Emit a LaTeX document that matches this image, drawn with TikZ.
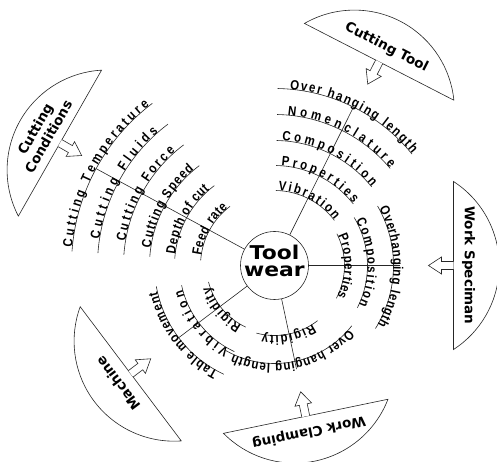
\documentclass[tikz,border=0pt]{standalone}
\usepackage{fontspec}
\setmainfont{DejaVu Sans}
\newfontfamily\lbfam{Liberation Sans}[FakeStretch=0.85]
\usetikzlibrary{decorations.text}
\newcommand\lblfont{\lbfam\bfseries\fontsize{13.5}{14}\selectfont}
\newcommand\boxfont{\bfseries\fontsize{13.5}{15.5}\selectfont}
\newcommand\arclab[4]{\path[decorate,decoration={text along path,text={|\lblfont|#4},text align={fit to path}}] (#2:#1) arc[start angle=#2,end angle=#3,radius=#1];}
\newcommand\ularc[3]{\draw[rib] (#2:#1) arc[start angle=#2,end angle=#3,radius=#1];}
\newcommand\segshape[5]{%
  \begin{scope}[rotate=#1]
    \draw[shapeline] (#2,84) arc[start angle=57.14,end angle=-57.14,radius=100] -- cycle;
    \draw[shapeline] (#2,4) -- ({#2-12},4) -- ({#2-12},8.5) -- ({#2-25},0) -- ({#2-12},-8.5) -- ({#2-12},-4) -- (#2,-4);
  \end{scope}
  \pgfmathsetmacro\labr{#2+#5}
  \node[boxlabel, rotate=#1-90] (#3) at (#1:\labr) {#4};}
\begin{document}
\begin{tikzpicture}[x=1pt,y=1pt,
  rib/.style={line width=0.6pt, black!85},
  spoke/.style={line width=0.6pt, black!85},
  shapeline/.style={line width=0.6pt, black!85, fill=white},
  boxlabel/.style={font=\boxfont, inner sep=0pt, align=center},
  twfont/.style={font=\bfseries\fontsize{19}{19}\selectfont, inner sep=0pt}]
\useasboundingbox (-274.5,-196.5) rectangle (222.5,265.5);

% category shapes
\segshape{62.8}{229}{ct}{Cutting Tool}{16}
\segshape{0}{179}{ws}{Work Speciman}{15}
\segshape{-78.3}{154}{wc}{Work Clamping}{16}
\segshape{217}{180}{mc}{Machine}{16}
\segshape{150.3}{247}{cc}{Cutting\\Conditions}{21}

% centre
\node[draw, circle, minimum size=68pt, inner sep=0pt, line width=0.6pt, black!85] (tw) at (0,0) {};
\node[twfont, anchor=base] (tw1) at (0,5.5) {\scalebox{1.15}[1]{Tool}};
\node[twfont, anchor=base] (tw2) at (0,-11.5) {\scalebox{1.15}[1]{wear}};

% spokes
\coordinate (s1) at (151.5:203);
\coordinate (s2) at (63.5:177);
\coordinate (s3) at (0:125);
\coordinate (s4) at (-78:106);
\coordinate (s5) at (217:123);
\foreach \s in {s1,s2,s3,s4,s5} \draw[spoke] (tw) -- (\s);

% group 1: cutting conditions
\ularc{203}{176}{127}
\ularc{177}{176}{127}
\ularc{151}{176}{127}
\ularc{125}{176}{127}
\ularc{100}{176}{127}
\ularc{74}{176}{127}
\arclab{203}{175}{128}{Cutting Temperature}
\arclab{177}{171.5}{131}{Cutting Fluids}
\arclab{151}{171}{131}{Cutting Force}
\arclab{125}{172}{130}{Cutting Speed}
\arclab{100}{173.5}{130.5}{Depth of cut}
\arclab{74}{172.5}{129}{Feed rate}

% group 2: cutting tool
\ularc{177}{89}{39}
\ularc{151}{89}{40}
\ularc{125}{89}{39}
\ularc{100}{89}{38}
\ularc{75}{89}{37}
\arclab{177}{85}{39}{Over hanging length}
\arclab{151}{85}{40}{Nomenclature}
\arclab{125}{86.5}{39}{Composition}
\arclab{100}{86}{38}{Properties}
\arclab{75}{87}{37}{Vibration}

% group 3: work speciman
\ularc{70}{27}{-28}
\ularc{93}{31}{-27}
\ularc{119}{30}{-32}
\arclab{70}{25}{-26.5}{Properties}
\arclab{93}{29}{-25}{Composition}
\arclab{119}{28.5}{-30}{Overhanging length}

% group 4: work clamping
\ularc{70}{-52}{-105}
\ularc{98}{-38}{-120}
\arclab{70}{-57}{-100}{Rigidity}
\arclab{98}{-41}{-115}{Over hanging length}

% group 5: machine
\ularc{68}{245}{194}
\ularc{95}{245}{192}
\ularc{120}{245}{190}
\arclab{68}{241}{198}{Rigidity}
\arclab{95}{241.5}{195}{Vibration}
\arclab{120}{242}{192.5}{Table movement}
\end{tikzpicture}
\end{document}
